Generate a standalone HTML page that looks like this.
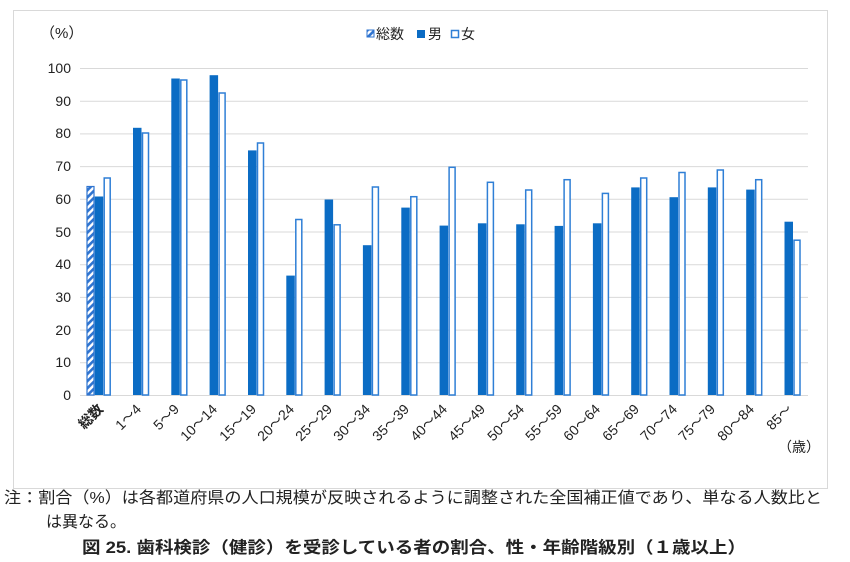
<!DOCTYPE html><html><head><meta charset="utf-8"><style>body{margin:0;background:#fff}svg{display:block}text{font-family:"Liberation Sans","Noto Sans CJK JP",sans-serif;fill:#222}</style></head><body>
<svg width="850" height="562" viewBox="0 0 850 562">
<defs><pattern id="h" width="5" height="5" patternUnits="userSpaceOnUse" patternTransform="rotate(45)"><rect width="5" height="5" fill="#fff"/><rect width="2.6" height="5" fill="#2f74d0"/></pattern></defs>
<rect x="13.5" y="10.5" width="814" height="478" fill="#fff" stroke="#d9d9d9"/>
<g stroke="#d9d9d9" stroke-width="1">
<line x1="80" x2="808" y1="68.5" y2="68.5"/><line x1="80" x2="808" y1="101.2" y2="101.2"/><line x1="80" x2="808" y1="133.9" y2="133.9"/><line x1="80" x2="808" y1="166.6" y2="166.6"/><line x1="80" x2="808" y1="199.3" y2="199.3"/><line x1="80" x2="808" y1="232" y2="232"/><line x1="80" x2="808" y1="264.7" y2="264.7"/><line x1="80" x2="808" y1="297.4" y2="297.4"/><line x1="80" x2="808" y1="330.1" y2="330.1"/><line x1="80" x2="808" y1="362.8" y2="362.8"/><line x1="80" x2="808" y1="395.5" y2="395.5"/>
</g>
<g font-size="14" text-anchor="end">
<text x="71" y="73">100</text><text x="71" y="106">90</text><text x="71" y="138">80</text><text x="71" y="171">70</text><text x="71" y="204">60</text><text x="71" y="237">50</text><text x="71" y="269">40</text><text x="71" y="302">30</text><text x="71" y="335">20</text><text x="71" y="367">10</text><text x="71" y="400">0</text>
</g>
<text x="40" y="38" font-size="15">（%）</text>
<rect x="87" y="186.5" width="7" height="208.5" fill="url(#h)" stroke="#2f74d0" stroke-width="1.2"/>
<g fill="#0b6cc4">
<rect x="94.7" y="196.5" width="8.5" height="198.5"/>
<rect x="133" y="127.8" width="8.5" height="267.2"/>
<rect x="171.3" y="78.5" width="8.5" height="316.5"/>
<rect x="209.6" y="75.2" width="8.5" height="319.8"/>
<rect x="248" y="150.4" width="8.5" height="244.6"/>
<rect x="286.3" y="275.6" width="8.5" height="119.4"/>
<rect x="324.6" y="199.5" width="8.5" height="195.5"/>
<rect x="362.9" y="245.2" width="8.5" height="149.8"/>
<rect x="401.3" y="207.6" width="8.5" height="187.4"/>
<rect x="439.6" y="225.6" width="8.5" height="169.4"/>
<rect x="477.9" y="223.3" width="8.5" height="171.7"/>
<rect x="516.2" y="224.3" width="8.5" height="170.7"/>
<rect x="554.6" y="225.9" width="8.5" height="169.1"/>
<rect x="592.9" y="223.3" width="8.5" height="171.7"/>
<rect x="631.2" y="187.4" width="8.5" height="207.6"/>
<rect x="669.5" y="197.2" width="8.5" height="197.8"/>
<rect x="707.8" y="187.4" width="8.5" height="207.6"/>
<rect x="746.2" y="189.6" width="8.5" height="205.4"/>
<rect x="784.5" y="221.7" width="8.5" height="173.3"/>
</g>
<g fill="#fff" stroke="#2f7fd6" stroke-width="1.5">
<rect x="104.2" y="178" width="6" height="217"/>
<rect x="142.5" y="133" width="6" height="262"/>
<rect x="180.8" y="80" width="6" height="315"/>
<rect x="219.1" y="93" width="6" height="302"/>
<rect x="257.5" y="143" width="6" height="252"/>
<rect x="295.8" y="219.5" width="6" height="175.5"/>
<rect x="334.1" y="224.8" width="6" height="170.2"/>
<rect x="372.4" y="187" width="6" height="208"/>
<rect x="410.8" y="196.7" width="6" height="198.3"/>
<rect x="449.1" y="167.3" width="6" height="227.7"/>
<rect x="487.4" y="182.3" width="6" height="212.7"/>
<rect x="525.7" y="190" width="6" height="205"/>
<rect x="564.1" y="179.7" width="6" height="215.3"/>
<rect x="602.4" y="193.4" width="6" height="201.6"/>
<rect x="640.7" y="178" width="6" height="217"/>
<rect x="679" y="172.5" width="6" height="222.5"/>
<rect x="717.3" y="170" width="6" height="225"/>
<rect x="755.7" y="179.7" width="6" height="215.3"/>
<rect x="794" y="240.2" width="6" height="154.8"/>
</g>
<g font-size="14" text-anchor="end">
<text transform="translate(104,410) rotate(-45)" font-weight="bold">総数</text>
<text transform="translate(142,410) rotate(-45)">1～4</text>
<text transform="translate(180,410) rotate(-45)">5～9</text>
<text transform="translate(218,410) rotate(-45)">10～14</text>
<text transform="translate(257,410) rotate(-45)">15～19</text>
<text transform="translate(295,410) rotate(-45)">20～24</text>
<text transform="translate(333,410) rotate(-45)">25～29</text>
<text transform="translate(371,410) rotate(-45)">30～34</text>
<text transform="translate(410,410) rotate(-45)">35～39</text>
<text transform="translate(448,410) rotate(-45)">40～44</text>
<text transform="translate(486,410) rotate(-45)">45～49</text>
<text transform="translate(525,410) rotate(-45)">50～54</text>
<text transform="translate(563,410) rotate(-45)">55～59</text>
<text transform="translate(601,410) rotate(-45)">60～64</text>
<text transform="translate(640,410) rotate(-45)">65～69</text>
<text transform="translate(678,410) rotate(-45)">70～74</text>
<text transform="translate(716,410) rotate(-45)">75～79</text>
<text transform="translate(755,410) rotate(-45)">80～84</text>
<text transform="translate(793,410) rotate(-45)">85～</text>
</g>
<text x="778" y="452" font-size="14">（歳）</text>
<rect x="367" y="30" width="7" height="7" fill="url(#h)" stroke="#2f74d0"/>
<text x="376" y="39" font-size="14">総数</text>
<rect x="417" y="30" width="8" height="8" fill="#0b6cc4"/>
<text x="428" y="39" font-size="14">男</text>
<rect x="451.5" y="30.5" width="7" height="7" fill="#fff" stroke="#2f7fd6" stroke-width="1.5"/>
<text x="461" y="39" font-size="14">女</text>
<text x="4" y="503" font-size="16" textLength="818" lengthAdjust="spacingAndGlyphs">注：割合（%）は各都道府県の人口規模が反映されるように調整された全国補正値であり、単なる人数比と</text>
<text x="46" y="527" font-size="16" textLength="80" lengthAdjust="spacingAndGlyphs">は異なる。</text>
<text x="82" y="553" font-size="16.5" font-weight="bold" textLength="664" lengthAdjust="spacingAndGlyphs">図 25.  歯科検診（健診）を受診している者の割合、性・年齢階級別（１歳以上）</text>
</svg></body></html>
